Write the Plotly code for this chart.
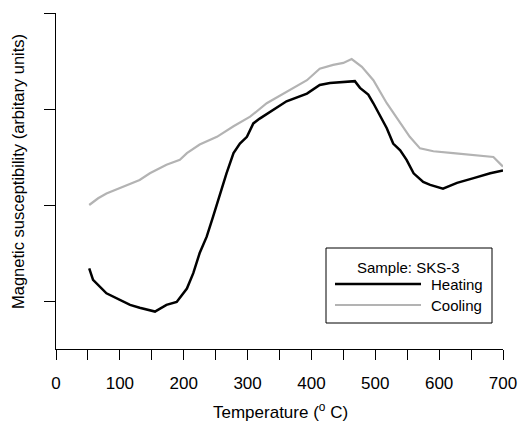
import plotly.graph_objects as go

heat_T = [52, 58, 79, 100, 116, 131, 155, 173, 189, 205, 215, 225, 236, 246, 257, 267, 278, 288, 299, 309,
          319, 340, 361, 393, 413, 429, 445, 468, 476, 489, 497, 508, 518, 528, 539, 549, 560, 575, 586, 606,
          628, 654, 680, 700]
heat_v = [1.34, 1.22, 1.08, 1.01, 0.96, 0.93, 0.89, 0.96, 0.99, 1.13, 1.29, 1.50, 1.67, 1.88, 2.12, 2.33, 2.54,
          2.64, 2.71, 2.85, 2.90, 2.99, 3.08, 3.16, 3.25, 3.27, 3.28, 3.29, 3.22, 3.15, 3.06, 2.92, 2.80, 2.64,
          2.57, 2.47, 2.33, 2.24, 2.21, 2.17, 2.23, 2.28, 2.33, 2.36]

cool_T = [52, 66, 79, 105, 131, 147, 173, 194, 205, 225, 252, 278, 304, 330, 361, 393, 413, 434, 450, 463,
          479, 497, 518, 539, 554, 570, 591, 622, 654, 685, 700]
cool_v = [2.00, 2.07, 2.12, 2.19, 2.26, 2.33, 2.42, 2.47, 2.54, 2.63, 2.71, 2.82, 2.92, 3.06, 3.18, 3.30,
          3.42, 3.46, 3.48, 3.52, 3.44, 3.30, 3.06, 2.85, 2.71, 2.59, 2.56, 2.54, 2.52, 2.50, 2.40]

x_ticks = [0, 100, 200, 300, 400, 500, 600, 700]
y_ticks = [1, 2, 3, 4]

FONT = "Liberation Sans, Arial, sans-serif"

fig = go.Figure()
fig.add_trace(go.Scatter(x=heat_T, y=heat_v, mode="lines", name="Heating",
                         line=dict(color="black", width=2.5), showlegend=False))
fig.add_trace(go.Scatter(x=cool_T, y=cool_v, mode="lines", name="Cooling",
                         line=dict(color="#b3b3b3", width=2.2), showlegend=False))

fig.update_layout(
    width=526, height=428,
    margin=dict(l=56, r=23, t=13, b=79),
    paper_bgcolor="white", plot_bgcolor="white",
    font=dict(family=FONT, size=17, color="black"),
    xaxis=dict(range=[0, 700], tickvals=x_ticks, ticks="outside", ticklen=10, tickcolor="black",
               showline=True, linecolor="black", linewidth=1, showgrid=False, zeroline=False,
               minor=dict(dtick=50, tick0=0, ticks="outside", ticklen=10, tickcolor="black", showgrid=False),
               ticklabelstandoff=9, tickfont=dict(size=17), automargin=False),
    yaxis=dict(range=[0.5, 4], tickvals=y_ticks, ticks="outside", ticklen=11, tickcolor="black",
               showticklabels=False, showline=True, linecolor="black", linewidth=1,
               showgrid=False, zeroline=False, automargin=False),
)

# pixel -> paper helpers (plot area spans x 56..503, y 13..349)
def px_x(p):
    return (p - 56) / (503 - 56)

def px_y(p):
    return (349 - p) / (349 - 13)

# axis titles
fig.add_annotation(text="Temperature (<sup>o</sup> C)", xref="paper", yref="paper", x=px_x(280), y=px_y(411),
                   showarrow=False, xanchor="center", yanchor="middle", font=dict(size=17))
fig.add_annotation(text="Magnetic susceptibility (arbitary units)", xref="paper", yref="paper",
                   x=px_x(18), y=px_y(172), textangle=-90,
                   showarrow=False, xanchor="center", yanchor="middle", font=dict(size=16.5))

# legend box
fig.add_shape(type="rect", xref="paper", yref="paper",
              x0=px_x(326), x1=px_x(492), y0=px_y(323), y1=px_y(248),
              line=dict(color="black", width=1), fillcolor="white", layer="above")
fig.add_shape(type="line", xref="paper", yref="paper",
              x0=px_x(335), x1=px_x(421), y0=px_y(284), y1=px_y(284),
              line=dict(color="black", width=2.5))
fig.add_shape(type="line", xref="paper", yref="paper",
              x0=px_x(335), x1=px_x(421), y0=px_y(305), y1=px_y(305),
              line=dict(color="#b3b3b3", width=2.2))
fig.add_annotation(text="Sample: SKS-3", xref="paper", yref="paper", x=px_x(408), y=px_y(267),
                   showarrow=False, xanchor="center", yanchor="middle", font=dict(size=15))
fig.add_annotation(text="Heating", xref="paper", yref="paper", x=px_x(429), y=px_y(284),
                   showarrow=False, xanchor="left", yanchor="middle", font=dict(size=15))
fig.add_annotation(text="Cooling", xref="paper", yref="paper", x=px_x(429), y=px_y(305),
                   showarrow=False, xanchor="left", yanchor="middle", font=dict(size=15))

fig.write_html("out.html")
